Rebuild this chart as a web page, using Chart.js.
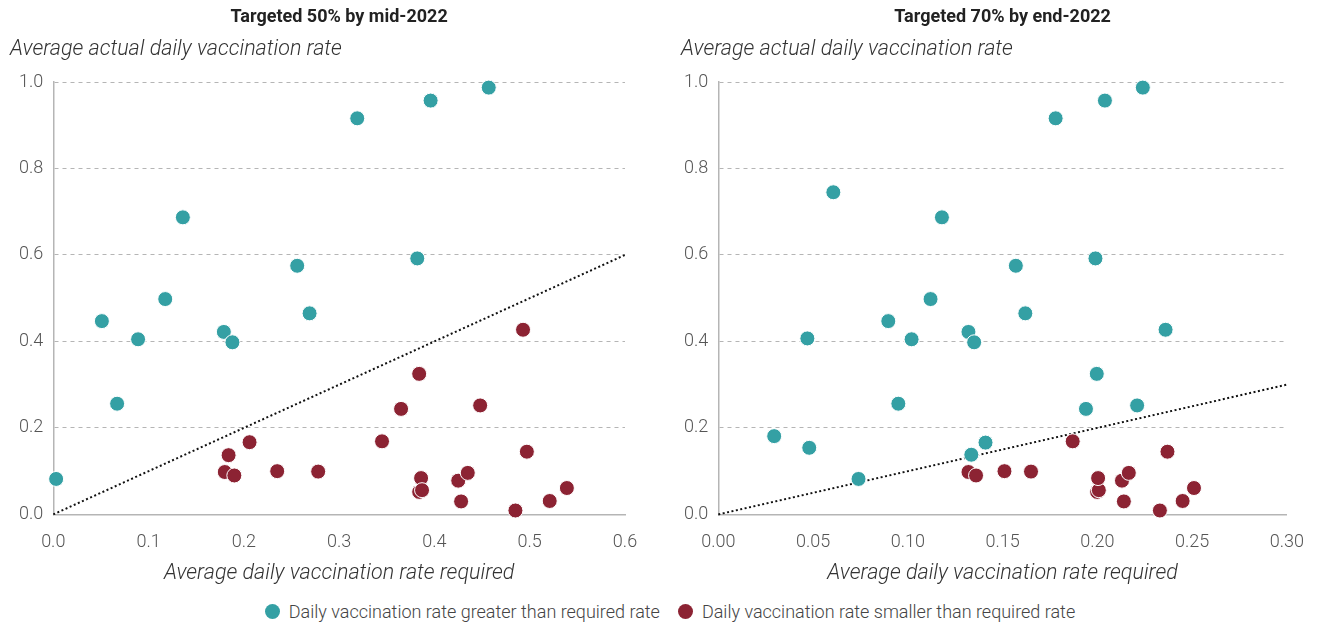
<!DOCTYPE html>
<html lang="en">
<head>
  <meta charset="UTF-8">
  <title>Actual vs required daily vaccination rate</title>
  <script src="https://cdn.jsdelivr.net/npm/chart.js"></script>
  <style>
    body { margin: 0; background: #fff; font-family: Roboto, "Liberation Sans", sans-serif; }
    .row { display: flex; }
    .box { position: relative; height: 596px; }
    .legend { display: flex; justify-content: center; align-items: center; height: 30px;
              font-size: 18px; font-weight: 300; color: #444; padding-left: 19px; }
    .legend span.dot { display: inline-block; width: 15px; height: 15px; border-radius: 50%; margin-right: 9px; }
    .legend .item { display: flex; align-items: center; margin: 0 9px; }
  </style>
</head>
<body>
  <div class="row">
    <div class="box" style="width:660px"><canvas id="midChart"></canvas></div>
    <div class="box" style="width:661px"><canvas id="endChart"></canvas></div>
  </div>
  <div class="legend">
    <div class="item"><span class="dot" style="background:#34a0a4"></span>Daily vaccination rate greater than required rate</div>
    <div class="item"><span class="dot" style="background:#8c2333"></span>Daily vaccination rate smaller than required rate</div>
  </div>

  <script>
    // 50% by mid-2022
    const midAboveX = [0.003, 0.051, 0.067, 0.089, 0.1175, 0.136, 0.179, 0.188, 0.256, 0.269, 0.319, 0.382, 0.396, 0.457];
    const midAboveY = [0.082, 0.447, 0.256, 0.405, 0.498, 0.687, 0.422, 0.398, 0.575, 0.465, 0.916, 0.592, 0.957, 0.987];
    const midBelowX = [0.184, 0.180, 0.190, 0.206, 0.235, 0.278, 0.345, 0.365, 0.384, 0.386, 0.384, 0.387, 0.425, 0.428, 0.435, 0.448, 0.485, 0.493, 0.497, 0.521, 0.539];
    const midBelowY = [0.137, 0.098, 0.090, 0.167, 0.100, 0.099, 0.169, 0.244, 0.325, 0.084, 0.052, 0.056, 0.078, 0.030, 0.096, 0.252, 0.009, 0.427, 0.145, 0.031, 0.061];

    // 70% by end-2022
    const endAboveX = [0.0295, 0.047, 0.048, 0.0607, 0.074, 0.0897, 0.095, 0.102, 0.112, 0.118, 0.132, 0.1335, 0.135, 0.141, 0.157, 0.162, 0.178, 0.194, 0.199, 0.1997, 0.204, 0.221, 0.224, 0.236];
    const endAboveY = [0.181, 0.407, 0.154, 0.745, 0.082, 0.447, 0.256, 0.405, 0.498, 0.687, 0.422, 0.138, 0.398, 0.166, 0.575, 0.465, 0.916, 0.244, 0.592, 0.325, 0.957, 0.252, 0.987, 0.427];
    const endBelowX = [0.132, 0.136, 0.151, 0.165, 0.187, 0.1999, 0.2008, 0.2004, 0.213, 0.214, 0.2166, 0.233, 0.237, 0.245, 0.251];
    const endBelowY = [0.098, 0.090, 0.100, 0.099, 0.169, 0.052, 0.056, 0.084, 0.078, 0.030, 0.096, 0.009, 0.145, 0.031, 0.061];

    const midLine = [0, 0.6];
    const endLine = [0, 0.3];

    const TEAL = '#34a0a4';
    const RED = '#8c2333';
    const FONT = 'Roboto';

    const pairs = (xs, ys) => xs.map((x, i) => ({ x, y: ys[i] }));

    // chart title, horizontal y-axis title and x-axis title
    const headers = {
      id: 'headers',
      afterDraw(chart, args, opts) {
        const { ctx, chartArea } = chart;
        const cx = (chartArea.left + chartArea.right) / 2;
        ctx.save();
        ctx.textBaseline = 'middle';
        ctx.fillStyle = '#222';
        ctx.font = `bold 18px ${FONT}`;
        ctx.textAlign = 'center';
        ctx.fillText(opts.title, cx, 17);
        ctx.fillStyle = '#333';
        ctx.font = `italic 300 21.5px ${FONT}`;
        ctx.fillText(opts.xTitle, cx, chartArea.bottom + 59);
        ctx.textAlign = 'left';
        ctx.fillText(opts.yTitle, opts.yTitleX, 50);
        ctx.restore();
      }
    };

    function makeChart(id, o) {
      new Chart(document.getElementById(id), {
        type: 'scatter',
        data: {
          datasets: [
            { data: pairs(o.aboveX, o.aboveY), backgroundColor: TEAL, borderColor: '#fff', borderWidth: 1, pointRadius: 7.5, pointHoverRadius: 7.5, clip: false, order: 1 },
            { data: pairs(o.belowX, o.belowY), backgroundColor: RED, borderColor: '#fff', borderWidth: 1, pointRadius: 7.5, pointHoverRadius: 7.5, clip: false, order: 2 },
            { data: pairs(o.line, o.line), showLine: true, pointRadius: 0, borderColor: '#111', borderWidth: 2, borderDash: [2, 2.5], clip: false, order: 3 }
          ]
        },
        options: {
          responsive: true,
          maintainAspectRatio: false,
          animation: false,
          layout: { padding: { top: 82, left: o.padLeft, right: o.padRight, bottom: 26 } },
          plugins: {
            legend: { display: false },
            tooltip: { enabled: false },
            headers: {
              title: o.title, yTitleX: o.yTitleX,
              yTitle: 'Average actual daily vaccination rate',
              xTitle: 'Average daily vaccination rate required'
            }
          },
          scales: {
            x: {
              min: 0, max: o.xMax,
              ticks: { stepSize: o.xStep, padding: 17, color: '#555', font: { family: FONT, size: 18, weight: '300' },
                       callback: v => v.toFixed(o.xDigits) },
              grid: { display: false, drawTicks: false },
              border: { display: true, color: '#b5b5b5', width: 1.5 }
            },
            y: {
              min: 0, max: 1,
              ticks: { stepSize: 0.2, padding: 10, color: '#555', font: { family: FONT, size: 18, weight: '300' },
                       callback: v => v.toFixed(1) },
              grid: { color: '#b5b5b5', lineWidth: 1, drawTicks: false },
              border: { display: true, color: '#b5b5b5', width: 1.5, dash: [4, 4] }
            }
          }
        },
        plugins: [headers]
      });
    }

    makeChart('midChart', {
      aboveX: midAboveX, aboveY: midAboveY, belowX: midBelowX, belowY: midBelowY, line: midLine,
      xMax: 0.6, xStep: 0.1, xDigits: 1, title: 'Targeted 50% by mid-2022',
      padLeft: 9, padRight: 35, yTitleX: 10
    });
    makeChart('endChart', {
      aboveX: endAboveX, aboveY: endAboveY, belowX: endBelowX, belowY: endBelowY, line: endLine,
      xMax: 0.3, xStep: 0.05, xDigits: 2, title: 'Targeted 70% by end-2022',
      padLeft: 14, padRight: 32, yTitleX: 21
    });
  </script>
</body>
</html>
